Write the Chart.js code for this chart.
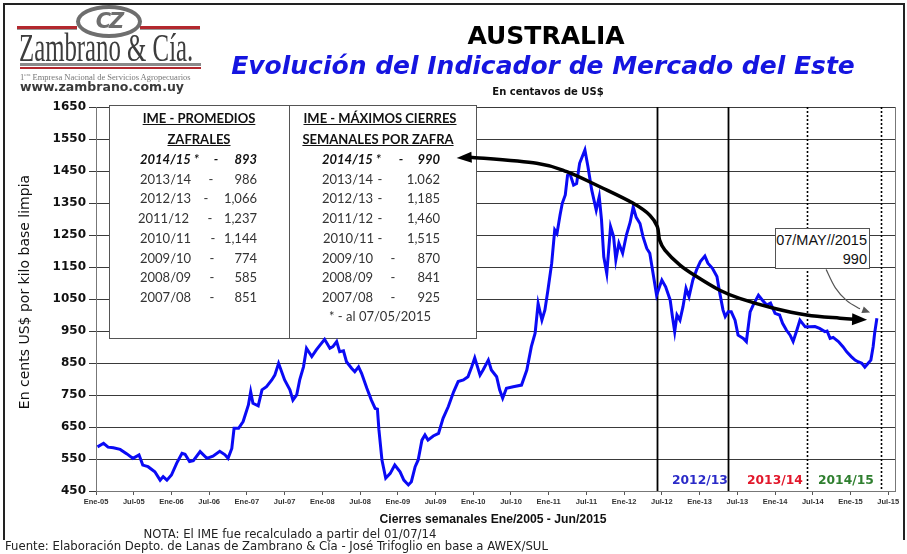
<!DOCTYPE html>
<html><head><meta charset="utf-8">
<script src="https://cdn.jsdelivr.net/npm/chart.js@4.4.1/dist/chart.umd.min.js"></script>
<style>
html,body{margin:0;padding:0;background:#fff;}
#wrap{position:relative;width:907px;height:554px;overflow:hidden;background:#fff;}
#c{position:absolute;left:0;top:0;}
.abs{position:absolute;white-space:nowrap;}
.tb{font-family:Lato,'Open Sans',sans-serif;font-size:13px;line-height:16px;color:#333;}
.hd{font-weight:bold;text-decoration:underline;color:#111;text-align:center;width:180px;}
.first{font-weight:bold;font-style:italic;color:#111;}
</style></head><body>
<div id="wrap">
<canvas id="c" width="907" height="554"></canvas>

<!-- frame -->
<div class="abs" style="left:3px;top:3px;width:901px;height:2px;background:#222"></div>
<div class="abs" style="left:3px;top:3px;width:2px;height:537px;background:#222"></div>
<div class="abs" style="left:903px;top:3px;width:2px;height:537px;background:#222"></div>

<!-- logo -->
<div class="abs" style="left:17px;top:26px;width:60px;height:3px;background:#b3282e"></div>
<div class="abs" style="left:140px;top:26px;width:60px;height:3px;background:#b3282e"></div>
<div class="abs" style="left:17px;top:29px;width:60px;height:1px;background:#999"></div>
<div class="abs" style="left:140px;top:29px;width:60px;height:1px;background:#999"></div>
<div class="abs" style="left:76px;top:5px;width:58px;height:25px;border:4px solid #6e6e6e;border-radius:50%;background:#fff;font:italic bold 21px 'DejaVu Sans';color:#6e6e6e;text-align:center;line-height:25px;letter-spacing:-2px">CZ</div>
<div class="abs" style="left:19px;top:26px;font:40px 'Liberation Serif',serif;color:#3d3d3d;transform:scaleX(0.62);transform-origin:0 0;line-height:44px">Zambrano &amp; Cía.</div>
<div class="abs" style="left:20px;top:63px;width:181px;height:3px;background:#8a8a8a"></div>
<div class="abs" style="left:20px;top:67px;width:181px;height:2px;background:#b3282e"></div>
<div class="abs" style="left:20px;top:70px;font:8.5px 'Liberation Serif',serif;color:#777;line-height:10px">1<sup style="font-size:5px">era</sup> Empresa Nacional de Servicios Agropecuarios</div>
<div class="abs" style="left:20px;top:79px;font:bold 12.5px 'DejaVu Sans';color:#3a3a3a;line-height:16px">www.zambrano.com.uy</div>

<!-- titles -->
<div class="abs" style="left:346px;width:400px;top:21px;text-align:center;font:bold 25px 'DejaVu Sans';color:#000;line-height:30px">AUSTRALIA</div>
<div class="abs" style="left:193px;width:700px;top:51px;text-align:center;font:italic bold 25px 'DejaVu Sans';color:#1515e0;line-height:30px">Evolución del Indicador de Mercado del Este</div>
<div class="abs" style="left:448px;width:200px;top:85px;text-align:center;font:bold 10px 'DejaVu Sans';color:#111;line-height:14px">En centavos de US$</div>

<!-- axis titles -->
<div class="abs" style="left:-126px;top:284px;width:300px;text-align:center;font:14px 'DejaVu Sans';color:#111;line-height:16px;transform:rotate(-90deg);transform-origin:150px 8px">En cents US$ por kilo base limpia</div>
<div class="abs" style="left:293px;width:400px;top:511px;text-align:center;font:bold 12.2px 'Liberation Sans';color:#111;line-height:16px">Cierres semanales Ene/2005 - Jun/2015</div>

<!-- footer -->
<div class="abs" style="left:90px;width:400px;top:527px;text-align:center;font:11.7px 'DejaVu Sans';color:#222;line-height:15px">NOTA: El IME fue recalculado a partir del 01/07/14</div>
<div class="abs" style="left:5px;top:539px;font:11.7px 'DejaVu Sans';color:#222;line-height:15px">Fuente: Elaboración Depto. de Lanas de Zambrano &amp; Cía - José Trifoglio en base a AWEX/SUL</div>

<!-- tables text -->
<div id="tables"></div>

<!-- date callout -->
<div class="abs" style="left:775px;top:228px;width:95px;height:41px;border:1px solid #555;background:#fff;font:14.5px 'Liberation Sans';color:#111;text-align:right;line-height:19px;box-sizing:border-box;padding:2px 2px 0 0">07/MAY//2015<br>990</div>

<!-- season labels -->
<div class="abs" style="left:672px;top:472px;font:bold 12.3px 'DejaVu Sans';color:#2b2bc8;line-height:16px">2012/13</div>
<div class="abs" style="left:747px;top:472px;font:bold 12.3px 'DejaVu Sans';color:#e2182b;line-height:16px">2013/14</div>
<div class="abs" style="left:818px;top:472px;font:bold 12.3px 'DejaVu Sans';color:#2f7f2f;line-height:16px">2014/15</div>
</div>

<script>
// ---- data (decimal year, US cents / kg clean) ----
const dates = [2005.02,2005.10,2005.16,2005.23,2005.32,2005.41,2005.49,2005.57,2005.62,2005.69,
2005.78,2005.85,2005.89,2005.94,2006.00,2006.07,2006.14,2006.18,2006.24,2006.29,
2006.38,2006.47,2006.55,2006.64,2006.71,2006.75,2006.80,2006.83,2006.89,2006.95,
2007.02,2007.05,2007.08,2007.15,2007.20,2007.26,2007.33,2007.37,2007.42,2007.50,
2007.57,2007.61,2007.66,2007.70,2007.75,2007.79,2007.86,2007.92,2007.99,2008.03,
2008.10,2008.14,2008.19,2008.23,2008.28,2008.32,2008.39,2008.43,2008.48,2008.52,
2008.59,2008.65,2008.70,2008.73,2008.75,2008.79,2008.84,2008.90,2008.96,2009.03,
2009.08,2009.14,2009.18,2009.23,2009.27,2009.32,2009.36,2009.40,2009.47,2009.54,
2009.60,2009.67,2009.74,2009.80,2009.87,2009.93,2009.98,2010.02,2010.09,2010.13,
2010.20,2010.24,2010.31,2010.35,2010.39,2010.44,2010.53,2010.64,2010.71,2010.77,
2010.82,2010.86,2010.91,2010.95,2010.99,2011.04,2011.08,2011.11,2011.15,2011.18,
2011.22,2011.25,2011.28,2011.33,2011.37,2011.41,2011.48,2011.52,2011.57,2011.63,
2011.67,2011.70,2011.73,2011.77,2011.82,2011.86,2011.89,2011.93,2011.98,2012.03,
2012.08,2012.12,2012.16,2012.21,2012.25,2012.30,2012.34,2012.39,2012.43,2012.50,
2012.55,2012.61,2012.64,2012.67,2012.70,2012.74,2012.78,2012.82,2012.86,2012.91,
2012.96,2013.01,2013.07,2013.11,2013.17,2013.23,2013.26,2013.31,2013.34,2013.38,
2013.42,2013.47,2013.51,2013.58,2013.62,2013.67,2013.71,2013.78,2013.83,2013.89,
2013.94,2014.00,2014.06,2014.10,2014.15,2014.20,2014.24,2014.29,2014.33,2014.40,
2014.46,2014.53,2014.59,2014.66,2014.69,2014.73,2014.77,2014.84,2014.90,2014.95,
2015.01,2015.06,2015.10,2015.15,2015.19,2015.24,2015.27,2015.30,2015.32,2015.35];
const values = [588,599,587,585,580,566,552,563,531,526,
510,484,495,484,500,537,568,565,542,545,
573,552,559,574,563,552,583,646,646,667,
719,760,724,716,766,776,797,812,849,797,
766,734,750,797,838,896,870,891,912,924,
896,901,917,885,888,854,833,823,838,818,
771,734,708,706,641,547,490,505,531,510,
484,469,479,526,547,609,625,609,622,630,
677,714,760,792,797,807,838,866,812,828,
859,828,807,766,740,771,776,781,828,901,
943,1036,984,1016,1078,1162,1266,1255,1312,1349,
1375,1437,1443,1406,1411,1474,1516,1464,1391,1328,
1370,1297,1182,1130,1276,1245,1172,1224,1193,1250,
1290,1338,1305,1286,1245,1208,1193,1120,1062,1109,
1088,1047,995,948,1000,984,1026,1083,1057,1109,
1141,1167,1184,1162,1146,1120,1078,1016,995,1010,
1010,984,937,927,917,1010,1031,1062,1047,1031,
1037,1005,1000,974,953,937,917,953,984,963,
963,964,958,948,950,927,930,917,901,885,
870,859,854,849,837,851,859,901,943,990];

const xTickValues = [2005,2005.5,2006,2006.5,2007,2007.5,2008,2008.5,2009,2009.5,2010,2010.5,2011,2011.5,2012,2012.5,2013,2013.5,2014,2014.5,2015,2015.5];
const xTickLabels = ['Ene-05','Jul-05','Ene-06','Jul-06','Ene-07','Jul-07','Ene-08','Jul-08','Ene-09','Jul-09','Ene-10','Jul-10','Ene-11','Jul-11','Ene-12','Jul-12','Ene-13','Jul-13','Ene-14','Jul-14','Ene-15','Jul-15'];
const seasonBounds = [2012.43, 2013.38, 2014.42, 2015.41];

const promSeasons = ['2014/15 *','2013/14','2012/13','2011/12','2010/11','2009/10','2008/09','2007/08'];
const promValues = ['893','986','1,066','1,237','1,144','774','585','851'];
const maxValues = ['990','1.062','1,185','1,460','1,515','870','841','925'];

// annotation geometry (data coordinates)
const bigArrowPath = [[2009.96,1493],[2010.84,1474],[2011.24,1448],[2011.72,1396],[2012.12,1349],[2012.34,1312],[2012.44,1276],[2012.47,1234],[2012.54,1203],[2012.74,1156],[2012.96,1120],[2013.26,1078],[2013.53,1052],[2013.97,1022],[2014.42,1000],[2014.86,990],[2015.08,986]];
const bigArrowTips = [[2009.78,1491],[2015.22,985]];
const thinArrowPath = [[2014.68,1141],[2014.80,1085],[2014.95,1045],[2015.12,1020]];
const thinArrowTip = [2015.26,1008];

// ---- tables (text) ----
const T = document.getElementById('tables');
function put(text, css, cls){ const d=document.createElement('div'); d.className='abs tb '+(cls||''); d.textContent=text; d.style.cssText+=css; T.appendChild(d); return d; }
put('IME - PROMEDIOS','left:109px;top:110px;','hd');
put('ZAFRALES','left:109px;top:131px;','hd');
put('IME - MÁXIMOS CIERRES','left:290px;top:110px;','hd');
put('SEMANALES POR ZAFRA','left:288px;top:131px;','hd');
const leftDash = [216,211,206,210,213,212,212,212];
const rightDash = [401,380,380,380,380,393,393,393];
promSeasons.forEach((s,i)=>{
  const top = 151 + i*19.7;
  const cls = i===0 ? 'first' : '';
  put(s, `left:${i===3?138:140}px;top:${top}px;`, cls);
  put('-', `left:${leftDash[i]-10}px;width:20px;text-align:center;top:${top}px;`, cls);
  put(promValues[i], `right:${907-257}px;top:${top}px;text-align:right;`, cls);
  put(s, `left:${i===4?323:322}px;top:${top}px;`, cls);
  put('-', `left:${rightDash[i]-10}px;width:20px;text-align:center;top:${top}px;`, cls);
  put(maxValues[i], `right:${907-440}px;top:${top}px;text-align:right;`, cls);
});
put('* - al 07/05/2015','left:290px;width:180px;text-align:center;top:308px;');

// ---- chart ----
function smooth(ctx, pts){
  ctx.moveTo(pts[0][0],pts[0][1]);
  for(let i=0;i<pts.length-1;i++){
    const p0=pts[i-1]||pts[i], p1=pts[i], p2=pts[i+1], p3=pts[i+2]||p2;
    ctx.bezierCurveTo(p1[0]+(p2[0]-p0[0])/6, p1[1]+(p2[1]-p0[1])/6, p2[0]-(p3[0]-p1[0])/6, p2[1]-(p3[1]-p1[1])/6, p2[0], p2[1]);
  }
}
function head(ctx, tip, from, len, half){
  const a=Math.atan2(tip[1]-from[1], tip[0]-from[0]);
  const bx=tip[0]-len*Math.cos(a), by=tip[1]-len*Math.sin(a);
  ctx.beginPath(); ctx.moveTo(tip[0],tip[1]);
  ctx.lineTo(bx+half*Math.sin(a), by-half*Math.cos(a));
  ctx.lineTo(bx-half*Math.sin(a), by+half*Math.cos(a));
  ctx.closePath(); ctx.fill();
}
const decor = {
  id:'decor',
  beforeDatasetsDraw(chart){
    const ctx=chart.ctx, a=chart.chartArea, xs=chart.scales.x;
    ctx.save();
    ctx.fillStyle='#fff'; ctx.fillRect(109.5,105.5,367,233);
    ctx.strokeStyle='#555'; ctx.lineWidth=1; ctx.strokeRect(109.5,105.5,367,233);
    ctx.beginPath(); ctx.moveTo(289.5,105.5); ctx.lineTo(289.5,338.5); ctx.stroke();
    ctx.strokeStyle='#777'; ctx.beginPath(); ctx.moveTo(a.right+0.5,a.top); ctx.lineTo(a.right+0.5,a.bottom); ctx.stroke();
    seasonBounds.forEach((d,i)=>{
      const px=Math.round(xs.getPixelForValue(d))+0.5;
      ctx.strokeStyle='#000'; ctx.lineWidth=i<2?1.8:1.6; ctx.setLineDash(i<2?[]:[2,2]);
      ctx.beginPath(); ctx.moveTo(px,a.top); ctx.lineTo(px,a.bottom); ctx.stroke();
    });
    ctx.restore();
  },
  afterDatasetsDraw(chart){
    const ctx=chart.ctx, xs=chart.scales.x, ys=chart.scales.y;
    const P=p=>[xs.getPixelForValue(p[0]), ys.getPixelForValue(p[1])];
    ctx.save();
    const pts=bigArrowPath.map(P);
    ctx.strokeStyle='#000'; ctx.fillStyle='#000'; ctx.lineWidth=3.5; ctx.lineCap='round';
    ctx.beginPath(); smooth(ctx, pts); ctx.stroke();
    head(ctx, P(bigArrowTips[0]), pts[0], 15, 5.5);
    head(ctx, P(bigArrowTips[1]), pts[pts.length-1], 15, 6);
    const tp=thinArrowPath.map(P);
    ctx.strokeStyle='#555'; ctx.fillStyle='#555'; ctx.lineWidth=1.2;
    ctx.beginPath(); smooth(ctx, tp); ctx.stroke();
    head(ctx, P(thinArrowTip), tp[tp.length-1], 8, 3.5);
    ctx.restore();
  }
};

new Chart(document.getElementById('c'), {
  type:'line',
  data:{ datasets:[{ data: dates.map((d,i)=>({x:d,y:values[i]})), borderColor:'#0a0af5', borderWidth:3, pointRadius:0, tension:0, fill:false }]},
  options:{
    responsive:false, animation:false, devicePixelRatio:1,
    layout:{ padding:{ left:0, top:107, right:12, bottom:41 } },
    plugins:{ legend:{display:false}, tooltip:{enabled:false} },
    scales:{
      x:{ type:'linear', min:2005, max:2015.59,
        afterBuildTicks:s=>{ s.ticks = xTickValues.map(v=>({value:v})); },
        afterFit:s=>{ s.height=22; },
        grid:{ drawOnChartArea:false, drawTicks:true, tickLength:4, color:'#555' },
        border:{ color:'#777', width:1 },
        ticks:{ autoSkip:false, maxRotation:0, padding:2, color:'#333', font:{family:'Liberation Sans', size:7.5, weight:'bold'},
          callback:(v,i)=>xTickLabels[i] }
      },
      y:{ min:450, max:1650,
        afterFit:s=>{ s.width=96; },
        grid:{ color:'#3a3a3a', lineWidth:1, tickLength:7 },
        border:{ color:'#777', width:1 },
        ticks:{ stepSize:100, padding:3, color:'#111', font:{family:'DejaVu Sans', size:12, weight:'bold'},
          callback:v=>String(v) }
      }
    }
  },
  plugins:[decor]
});
</script>
</body></html>
